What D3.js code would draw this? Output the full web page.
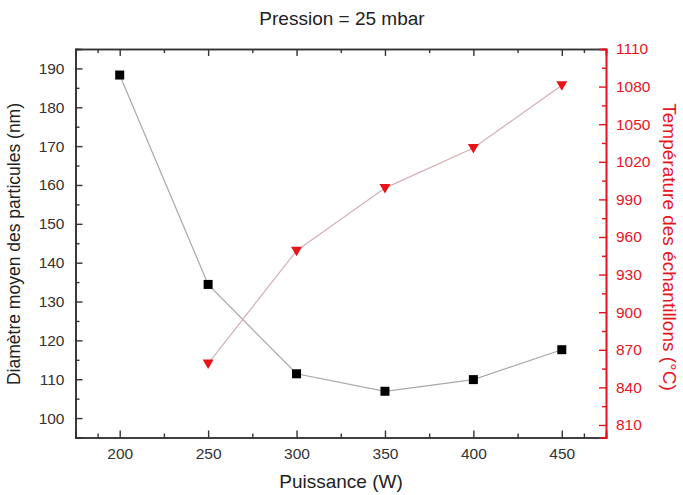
<!DOCTYPE html>
<html><head><meta charset="utf-8">
<script src="https://cdn.jsdelivr.net/npm/d3@7"></script>
<style>body{margin:0;background:#fff}svg{display:block}text{font-family:"Liberation Sans",Arial,sans-serif}</style>
</head><body>
<script>
const puissance = [200, 250, 300, 350, 400, 450];
const diametre = [188.3, 134.4, 111.4, 106.9, 109.9, 117.6];
const puissanceT = [250, 300, 350, 400, 450];
const temperature = [859, 949, 999, 1031, 1081];
const xTicks = [200, 250, 300, 350, 400, 450];
const yLeftTicks = [100, 110, 120, 130, 140, 150, 160, 170, 180, 190];
const yRightTicks = [810, 840, 870, 900, 930, 960, 990, 1020, 1050, 1080, 1110];

const W = 683, H = 495;
const L = 75.5, R = 606, T = 49, B = 437.5;
const red = "#e8141c";
const svg = d3.select("body").append("svg").attr("width", W).attr("height", H);

const x = d3.scaleLinear().domain([175, 475]).range([L, R]);
const yL = d3.scaleLinear().domain([95, 195]).range([B, T]);
const yR = d3.scaleLinear().domain([800, 1110]).range([B, T]);

function minor(arr) { const m = []; for (let i = 0; i < arr.length - 1; i++) m.push((arr[i] + arr[i+1]) / 2); return m; }
const xMinor = minor([175, ...xTicks, 475]).filter(v => v > 175 && v < 475);
const yRMinor = minor(yRightTicks);

const gx = svg.append("g").attr("transform", `translate(0,${B})`);
gx.call(d3.axisBottom(x).tickValues(xTicks).tickSize(-7).tickPadding(10).tickFormat(d3.format("d")));
const gxm = svg.append("g").attr("transform", `translate(0,${B})`);
gxm.call(d3.axisBottom(x).tickValues(xMinor).tickSize(-4).tickFormat(""));
const gxt = svg.append("g").attr("transform", `translate(0,${T})`);
gxt.call(d3.axisTop(x).tickValues(xTicks).tickSize(-7).tickFormat(""));
const gxtm = svg.append("g").attr("transform", `translate(0,${T})`);
gxtm.call(d3.axisTop(x).tickValues(xMinor).tickSize(-4).tickFormat(""));

const gyl = svg.append("g").attr("transform", `translate(${L},0)`);
gyl.call(d3.axisLeft(yL).tickValues(yLeftTicks).tickSize(-7).tickPadding(11).tickFormat(d3.format("d")));
const gylm = svg.append("g").attr("transform", `translate(${L},0)`);
gylm.call(d3.axisLeft(yL).tickValues(minor(yLeftTicks)).tickSize(-4).tickFormat(""));

const gyr = svg.append("g").attr("transform", `translate(${R},0)`);
gyr.call(d3.axisRight(yR).tickValues(yRightTicks).tickSize(-7).tickPadding(10).tickFormat(d3.format("d")));
const gyrm = svg.append("g").attr("transform", `translate(${R},0)`);
gyrm.call(d3.axisRight(yR).tickValues(yRMinor).tickSize(-4).tickFormat(""));

[gx, gxm, gxt, gxtm, gyl, gylm].forEach(g => {
  g.selectAll("path.domain").attr("stroke", "#333").attr("stroke-width", 1.6);
  g.selectAll(".tick line").attr("stroke", "#333").attr("stroke-width", 1.4);
  g.selectAll(".tick text").attr("fill", "#333").attr("font-size", 15.5);
});
[gyr, gyrm].forEach(g => {
  g.selectAll("path.domain").attr("stroke", red).attr("stroke-width", 1.6);
  g.selectAll(".tick line").attr("stroke", red).attr("stroke-width", 1.4);
  g.selectAll(".tick text").attr("fill", red).attr("font-size", 15.5);
});

const lineD = d3.line().x((d, i) => x(puissance[i])).y(d => yL(d));
svg.append("path").datum(diametre).attr("d", lineD).attr("fill", "none").attr("stroke", "#a8a8a8").attr("stroke-width", 1.2);
const lineT = d3.line().x((d, i) => x(puissanceT[i])).y(d => yR(d));
svg.append("path").datum(temperature).attr("d", lineT).attr("fill", "none").attr("stroke", "#d4b0b4").attr("stroke-width", 1.2);

svg.selectAll("rect.sq").data(diametre).join("rect").attr("class", "sq")
  .attr("x", (d, i) => x(puissance[i]) - 4.5).attr("y", d => yL(d) - 4.5)
  .attr("width", 9).attr("height", 9).attr("fill", "#000");
svg.selectAll("path.tri").data(temperature).join("path").attr("class", "tri")
  .attr("d", (d, i) => { const cx = x(puissanceT[i]), cy = yR(d); return `M${cx-5.5},${cy-4}L${cx+5.5},${cy-4}L${cx},${cy+5.5}Z`; })
  .attr("fill", red);

svg.append("text").attr("x", 342).attr("y", 25).attr("text-anchor", "middle")
  .attr("font-size", 19).attr("fill", "#222").text("Pression = 25 mbar");
svg.append("text").attr("x", 341).attr("y", 488).attr("text-anchor", "middle")
  .attr("font-size", 19).attr("fill", "#222").text("Puissance (W)");
svg.append("text").attr("transform", `translate(20,244) rotate(-90)`).attr("text-anchor", "middle")
  .attr("font-size", 17.5).attr("fill", "#222").text("Diamètre moyen des particules (nm)");
svg.append("text").attr("transform", `translate(663,247) rotate(90)`).attr("text-anchor", "middle")
  .attr("font-size", 19).attr("fill", red).text("Température des échantillons (°C)");
</script>
</body></html>
